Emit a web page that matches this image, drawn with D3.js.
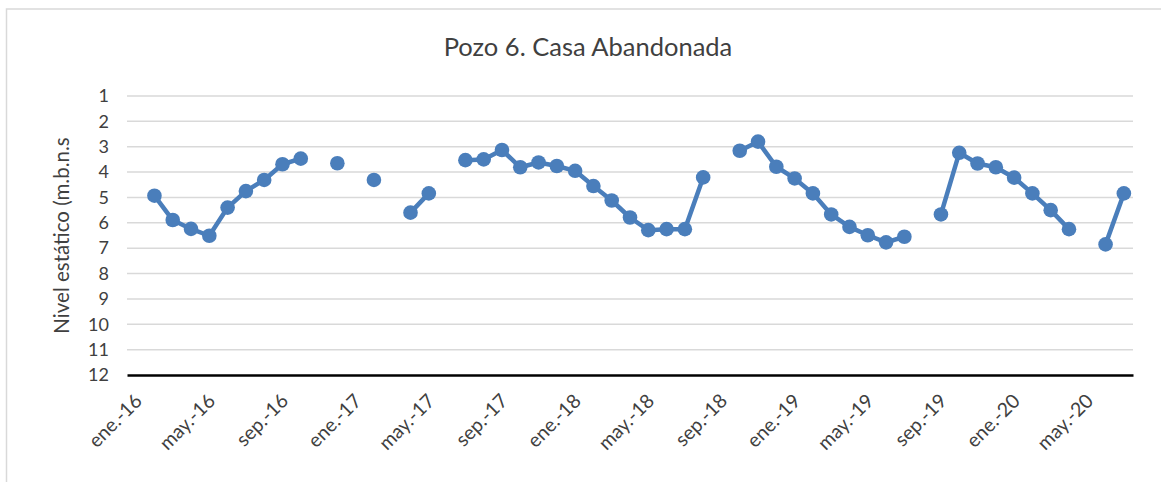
<!DOCTYPE html>
<html>
  <head>
    <meta charset="utf-8">
    <title>Pozo 6. Casa Abandonada</title>
<style>
body { margin: 0; background: #fff; }
svg { display: block; font-family: Lato, "Open Sans", sans-serif; }
.grid line { stroke: #d9d9d9; stroke-width: 1.5px; }
.axis text { fill: #404040; font-size: 18px; font-family: Lato, "Open Sans", sans-serif; }
.line { fill: none; stroke: #4a7ebb; stroke-width: 4.5px; stroke-linejoin: round; }
</style>
	<script src="https://d3js.org/d3.v7.min.js"></script>
  </head>
  <body>
	<script type="text/javascript">

		// months ene.-16 .. jul.-20
		var mesesAbr = ["ene.", "feb.", "mar.", "abr.", "may.", "jun.", "jul.", "ago.", "sep.", "oct.", "nov.", "dic."];
		var meses = [];
		for (var a = 16; a <= 20; a++) {
			for (var m = 0; m < 12; m++) {
				if (a === 20 && m > 6) break;
				meses.push(mesesAbr[m] + "-" + a);
			}
		}

		// nivel estatico (m.b.n.s), null = sin medicion
		var nivel = [
			null, 4.93, 5.89, 6.24, 6.51, 5.40, 4.75, 4.31, 3.69, 3.47, null, 3.65,
			null, 4.31, null, 5.60, 4.84, null, 3.53, 3.50, 3.13, 3.81, 3.62, 3.76,
			3.95, 4.55, 5.12, 5.79, 6.29, 6.25, 6.25, 4.21, null, 3.16, 2.80, 3.79,
			4.25, 4.84, 5.67, 6.16, 6.49, 6.77, 6.55, null, 5.67, 3.24, 3.66, 3.81,
			4.22, 4.84, 5.50, 6.25, null, 6.85, 4.84
		];

		var yTicks = [1, 2, 3, 4, 5, 6, 7, 8, 9, 10, 11, 12];

		var data = meses.map(function(d, i) { return {mes: d, v: nivel[i]}; });

		var W = 1161, H = 482;
		var margin = {top: 96, right: 28, bottom: 107, left: 127},
			width = W - margin.left - margin.right,
			height = H - margin.top - margin.bottom;

		var svg = d3.select("body").append("svg")
			.attr("width", W)
			.attr("height", H);

		// chart border
		svg.append("rect")
			.attr("x", 6.5).attr("y", 9)
			.attr("width", W + 20).attr("height", H + 20)
			.attr("fill", "none")
			.attr("stroke", "#d9d9d9")
			.attr("stroke-width", 1.5);

		svg.append("text")
			.attr("x", 588).attr("y", 56)
			.attr("text-anchor", "middle")
			.style("font-size", "25.5px")
			.style("fill", "#404040")
			.text("Pozo 6. Casa Abandonada");

		var g = svg.append("g")
			.attr("transform", "translate(" + margin.left + "," + margin.top + ")");

		var x = d3.scaleBand().domain(meses).range([0, width]);
		var y = d3.scaleLinear().domain([1, 12]).range([0, height]);

		// gridlines
		g.append("g").attr("class", "grid")
			.selectAll("line")
			.data(yTicks.slice(0, -1))
			.enter().append("line")
			.attr("x1", 0).attr("x2", width)
			.attr("y1", function(d) { return y(d); })
			.attr("y2", function(d) { return y(d); });

		// y axis labels
		g.append("g").attr("class", "axis")
			.call(d3.axisLeft(y).tickValues(yTicks).tickSize(0).tickPadding(18))
			.call(function(s) { s.select(".domain").remove(); });

		// x axis
		var xAxis = g.append("g").attr("class", "axis")
			.attr("transform", "translate(0," + height + ")")
			.call(d3.axisBottom(x)
				.tickValues(meses.filter(function(d, i) { return i % 4 === 0; }))
				.tickSize(0));
		xAxis.select(".domain")
			.attr("stroke", "#000")
			.attr("stroke-width", 2.5);
		xAxis.selectAll("text")
			.style("font-size", "19.5px")
			.attr("text-anchor", "end")
			.attr("dy", 0)
			.attr("transform", "translate(5,25) rotate(-45)");

		// y axis title
		svg.append("text")
			.attr("transform", "translate(69," + (margin.top + height / 2) + ") rotate(-90)")
			.attr("text-anchor", "middle")
			.style("font-size", "20.5px")
			.style("fill", "#404040")
			.text("Nivel estático (m.b.n.s");

		var cx = function(d) { return x(d.mes) + x.bandwidth() / 2; };

		var valueline = d3.line()
			.defined(function(d) { return d.v !== null; })
			.x(cx)
			.y(function(d) { return y(d.v); });

		g.append("path")
			.datum(data)
			.attr("class", "line")
			.attr("d", valueline);

		g.selectAll(".dot")
			.data(data.filter(function(d) { return d.v !== null; }))
			.enter().append("circle")
			.attr("class", "dot")
			.attr("cx", cx)
			.attr("cy", function(d) { return y(d.v); })
			.attr("r", 7.3)
			.attr("fill", "#4a7ebb");

    </script>
  </body>
</html>
